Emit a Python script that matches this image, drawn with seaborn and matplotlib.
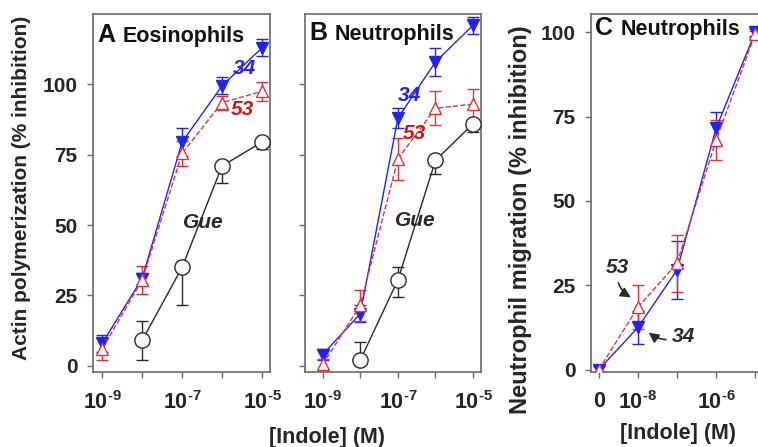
import matplotlib
matplotlib.use('Agg')
import matplotlib.pyplot as plt
import seaborn as sns
import numpy as np

sns.set_style("ticks")
plt.rcParams['font.family'] = ['Liberation Sans', 'DejaVu Sans']
plt.rcParams['font.weight'] = 'bold'
plt.rcParams['mathtext.fontset'] = 'custom'
plt.rcParams['mathtext.rm'] = 'Liberation Sans:bold'
plt.rcParams['mathtext.bf'] = 'Liberation Sans:bold'
plt.rcParams['mathtext.default'] = 'rm'

BLUE = '#2323f0'
RED = '#e0333a'
BLACK = '#2a2a2a'
SPINE = '#6a6a6a'

# ---- data (x = log10 of [Indole] in M; "0" is drawn at -9 in panel C) ----
conc = [-9, -8, -7, -6, -5]
conc_gue = [-8, -7, -6, -5]

# A: eosinophils, actin polymerization
a_34 = [8, 31, 79.5, 99.5, 113]
a_34_err = [3, 2, 5, 3, 3]
a_53 = [6, 30.5, 75.5, 93.5, 97.5]
a_53_err = [4, 5, 4.5, 2.5, 3.5]
a_gue = [9, 35, 71, 79.5]
a_gue_lo = [7, 13.5, 6, 2.5]
a_gue_hi = [7, 0, 0, 0]

# B: neutrophils, actin polymerization
b_34 = [4, 18.5, 88, 108, 121]
b_34_err = [2, 3, 3.5, 5, 3]
b_53 = [0.5, 21.5, 73.5, 91.5, 93]
b_53_err = [2, 5.5, 7.5, 6, 5.5]
b_gue = [2, 30.5, 73, 86]
b_gue_lo = [0, 6, 5, 3]
b_gue_hi = [6.5, 4.5, 0, 0]

# C: neutrophil migration
c_34 = [0, 12.5, 29.5, 71.5, 100]
c_34_err = [1, 5, 8.5, 5, 1]
c_53 = [0, 18.5, 31.5, 68, 99.5]
c_53_err = [1, 6.5, 8.5, 6, 1]

ab_xlabels = [r'$10^{\text{-9}}$', '', r'$10^{\text{-7}}$', '', r'$10^{\text{-5}}$']
c_xlabels = ['0', r'$10^{\text{-8}}$', '', r'$10^{\text{-6}}$', '']


def series(ax, x, y, lo, hi, color, marker, face, ls, ms):
    ax.errorbar(x, y, yerr=[lo, hi], fmt='none', ecolor=color, elinewidth=1,
                capsize=4, capthick=1, zorder=2)
    sns.lineplot(x=x, y=y, ax=ax, color=color, linestyle=ls, linewidth=1,
                 marker=marker, markersize=ms, markerfacecolor=face,
                 markeredgecolor=color, markeredgewidth=1, zorder=3)


def style_axes(ax, xlim, ylim, xlabels, yticks_on=True):
    ax.set_xlim(*xlim)
    ax.set_ylim(*ylim)
    ax.set_xticks(conc)
    ax.set_xticklabels(xlabels, fontsize=15.5, fontweight='bold')
    ax.set_yticks([0, 25, 50, 75, 100])
    if yticks_on:
        ax.set_yticklabels(['0', '25', '50', '75', '100'], fontsize=15, fontweight='bold')
    else:
        ax.set_yticklabels([])
    ax.tick_params(direction='out', length=4, width=1, color=SPINE)
    ax.tick_params(axis='x', pad=10)
    ax.tick_params(axis='y', pad=7)
    for s in ax.spines.values():
        s.set_visible(True)
        s.set_color(SPINE)
        s.set_linewidth(1.2)
    ax.set_xlabel('')
    ax.set_ylabel('')


def panel_title(ax, letter, name, y):
    ax.text(0.025, y, letter, transform=ax.transAxes, fontsize=18,
            fontweight='bold', va='baseline', ha='left', color='#111')
    ax.text(0.17, y, name, transform=ax.transAxes, fontsize=15.5,
            fontweight='bold', va='baseline', ha='left', color='#111')


fig = plt.figure(figsize=(7.58, 4.47), dpi=100)
ax_a = fig.add_axes([93 / 758, 75 / 447, 177 / 758, 358 / 447])
ax_b = fig.add_axes([305 / 758, 75 / 447, 176 / 758, 358 / 447])
ax_c = fig.add_axes([591 / 758, 75 / 447, 172 / 758, 358 / 447])

# panel A
series(ax_a, conc, a_34, a_34_err, a_34_err, BLUE, 'v', BLUE, '-', 8)
series(ax_a, conc, a_53, a_53_err, a_53_err, RED, '^', 'white', '--', 9)
series(ax_a, conc_gue, a_gue, a_gue_lo, a_gue_hi, BLACK, 'o', 'white', '-', 11)
style_axes(ax_a, (-9.23, -4.8), (-2.2, 125), ab_xlabels)
panel_title(ax_a, 'A', 'Eosinophils', 0.922)
ax_a.text(-5.44, 105.8, '34', color=BLUE, fontsize=15, fontweight='bold',
          style='italic', ha='center', va='center')
ax_a.text(-5.48, 90.9, '53', color='#c81818', fontsize=15, fontweight='bold',
          style='italic', ha='center', va='center')
ax_a.text(-6.48, 51, 'Gue', color=BLACK, fontsize=15, fontweight='bold',
          style='italic', ha='center', va='center')

# panel B
series(ax_b, conc, b_34, b_34_err, b_34_err, BLUE, 'v', BLUE, '-', 8)
series(ax_b, conc, b_53, b_53_err, b_53_err, RED, '^', 'white', '--', 9)
series(ax_b, conc_gue, b_gue, b_gue_lo, b_gue_hi, BLACK, 'o', 'white', '-', 11)
style_axes(ax_b, (-9.47, -4.79), (-2.2, 125), ab_xlabels, yticks_on=False)
panel_title(ax_b, 'B', 'Neutrophils', 0.927)
ax_b.text(-6.69, 96.2, '34', color=BLUE, fontsize=15, fontweight='bold',
          style='italic', ha='center', va='center')
ax_b.text(-6.56, 82.7, '53', color='#c81818', fontsize=15, fontweight='bold',
          style='italic', ha='center', va='center')
ax_b.text(-6.55, 51.8, 'Gue', color=BLACK, fontsize=15, fontweight='bold',
          style='italic', ha='center', va='center')

# panel C
series(ax_c, conc, c_34, c_34_err, c_34_err, BLUE, 'v', BLUE, '-', 8)
series(ax_c, conc, c_53, c_53_err, c_53_err, RED, '^', 'white', '--', 9)
style_axes(ax_c, (-9.2, -4.8), (-0.7, 105.4), c_xlabels)
panel_title(ax_c, 'C', 'Neutrophils', 0.941)
ax_c.annotate('53', xy=(-8.12, 21), xytext=(-8.53, 30.3), color=BLACK,
              fontsize=15, fontweight='bold', style='italic', ha='center', va='center',
              arrowprops=dict(arrowstyle='-|>', color=BLACK, lw=1.2,
                              connectionstyle='arc3,rad=0.35', shrinkA=2, shrinkB=2))
ax_c.annotate('34', xy=(-7.78, 11.5), xytext=(-6.83, 9.7), color=BLACK,
              fontsize=15, fontweight='bold', style='italic', ha='center', va='center',
              arrowprops=dict(arrowstyle='-|>', color=BLACK, lw=1.2,
                              connectionstyle='arc3,rad=-0.3', shrinkA=2, shrinkB=2))

# axis labels
fig.text(22 / 758, 1 - 188 / 447, 'Actin polymerization (% inhibition)', rotation=90,
         ha='center', va='center', fontsize=15, fontweight='bold')
fig.text(521 / 758, 1 - 220 / 447, 'Neutrophil migration (% inhibition)', rotation=90,
         ha='center', va='center', fontsize=17, fontweight='bold')
fig.text(327 / 758, 1 - 438 / 447, '[Indole] (M)', ha='center', va='center',
         fontsize=15.5, fontweight='bold')
fig.text(678 / 758, 1 - 433 / 447, '[Indole] (M)', ha='center', va='center',
         fontsize=15.5, fontweight='bold')

fig.savefig('out.png', dpi=100)
